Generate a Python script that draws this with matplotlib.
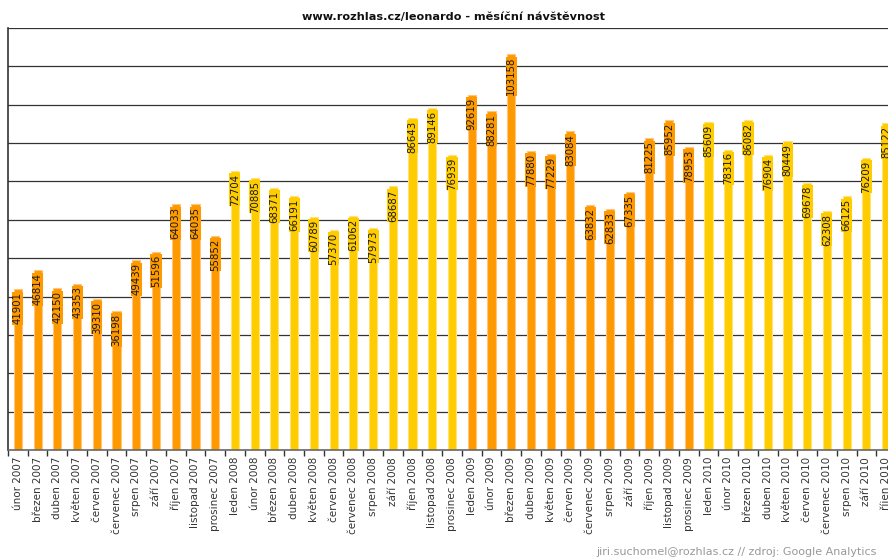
import matplotlib
matplotlib.use("Agg")
import matplotlib.pyplot as plt
from matplotlib.ticker import FixedLocator, NullFormatter

plt.rcParams['font.family'] = ['DejaVu Sans']

months = ["leden", "únor", "březen", "duben", "květen", "červen",
          "červenec", "srpen", "září", "říjen", "listopad", "prosinec"]

visits_2007 = [41901, 46814, 42150, 43353, 39310, 36198, 49439, 51596, 64033, 64035, 55852]
visits_2008 = [72704, 70885, 68371, 66191, 60789, 57370, 61062, 57973, 68687, 86643, 89146, 76939]
visits_2009 = [92619, 88281, 103158, 77880, 77229, 83084, 63832, 62833, 67335, 81225, 85952, 78953]
visits_2010 = [85609, 78316, 86082, 76904, 80449, 69678, 62308, 66125, 76209, 85122]

years = [(2007, visits_2007, 1), (2008, visits_2008, 0),
         (2009, visits_2009, 0), (2010, visits_2010, 0)]

year_colors = {2007: "#FF9900", 2008: "#FFCC00", 2009: "#FF9900", 2010: "#FFCC00"}
edge_colors = {2007: "#FFC680", 2008: "#FFE37A", 2009: "#FFC680", 2010: "#FFE37A"}

labels, values, colors, edges = [], [], [], []
for year, vals, start in years:
    for i, v in enumerate(vals):
        labels.append(f"{months[start + i]} {year}")
        values.append(v)
        colors.append(year_colors[year])
        edges.append(edge_colors[year])

W, H = 888, 559
fig = plt.figure(figsize=(W / 100, H / 100), dpi=100)
ax = fig.add_axes([8 / W, 109 / H, 888 / W, (450 - 28) / H])

x = list(range(len(values)))
ax.set_xlim(-0.5, len(values) - 0.5)
ax.set_ylim(0, 110000)

for yv in range(10000, 110001, 10000):
    ax.axhline(yv, color="#333333", lw=0.9, zorder=1)

ax.bar(x, values, width=0.41, color=colors, edgecolor=edges, linewidth=0.8, zorder=2)

for xi, v, c in zip(x, values, colors):
    ax.annotate(str(v), xy=(xi, v), xytext=(0, -2), textcoords="offset points",
                rotation=90, ha="center", va="top", fontsize=7.3, color="#1a1a1a",
                bbox=dict(boxstyle="square,pad=0.05", facecolor=c, edgecolor="none"),
                zorder=3)

for side in ("top", "right"):
    ax.spines[side].set_visible(False)
ax.spines["left"].set_color("#333333")
ax.spines["left"].set_linewidth(1.2)
ax.spines["bottom"].set_color("#666666")
ax.spines["bottom"].set_linewidth(1.2)

ax.set_yticks([])
ax.set_xticks(x)
ax.set_xticklabels(labels, rotation=90, fontsize=7.5, color="#333333")
ax.tick_params(axis="x", which="major", length=0, pad=5)
ax.xaxis.set_minor_locator(FixedLocator([i - 0.5 for i in range(len(values) + 1)]))
ax.xaxis.set_minor_formatter(NullFormatter())
ax.tick_params(axis="x", which="minor", length=4, width=1, color="#333333")

fig.text(453 / W, 1 - 17 / H, "www.rozhlas.cz/leonardo - měsíční návštěvnost",
         ha="center", va="center", fontsize=8.1, fontweight="bold", color="#111111")
fig.text(877 / W, 1 - 552 / H, "jiri.suchomel@rozhlas.cz // zdroj: Google Analytics",
         ha="right", va="center", fontsize=8.0, color="#999999")

fig.savefig("out.png", dpi=100)
